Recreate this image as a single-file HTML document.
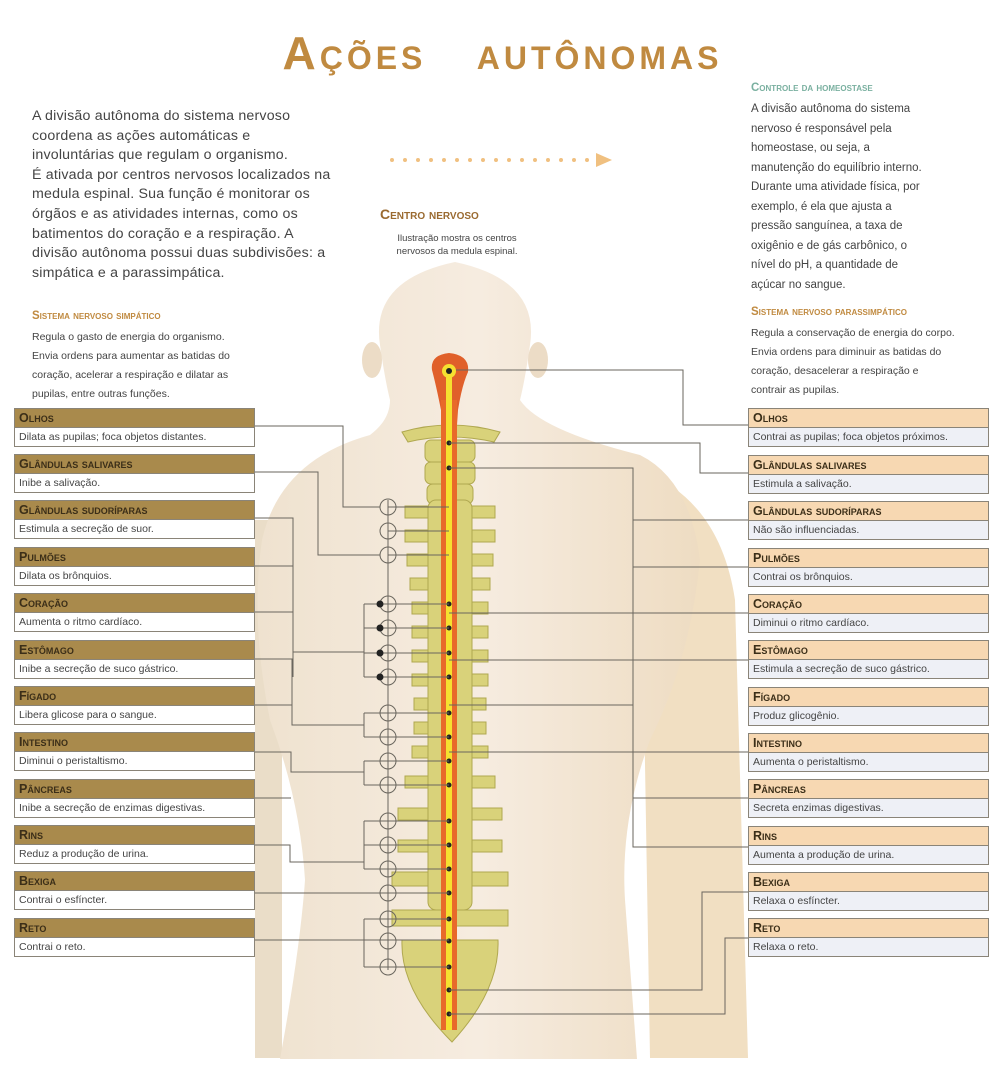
<!DOCTYPE html>
<html><head><meta charset="utf-8"><style>
body{margin:0;width:1005px;height:1086px;background:#fff;position:relative;overflow:hidden;font-family:"Liberation Sans",sans-serif;color:#444}
.a{position:absolute}
h1{position:absolute;left:0;width:1005px;top:26px;margin:0;text-align:center;font:bold 46px "Liberation Sans",sans-serif;color:#c08a40;letter-spacing:4px;font-variant:small-caps}
.lt{left:32px;top:107px;font-size:14.2px;line-height:19.6px;color:#444;letter-spacing:.2px}
.rt{left:751px;top:100px;font-size:11.5px;line-height:19.5px;color:#444}
.st{font-weight:bold;font-variant:small-caps;font-size:11.5px;color:#c08a40}
.box{position:absolute;width:239px;border:1px solid #8a8478;font-size:10.5px}
.box .h{height:18px;line-height:19px;padding-left:4px;font-weight:bold;font-variant:small-caps;font-size:12.5px;color:#3b2e18;border-bottom:1px solid #8a8478}
.box .b{height:18px;line-height:18px;padding-left:4px;color:#444}
.L .h{background:#a98a4c}.L .b{background:#fff}
.R .h{background:#f7d8b2}.R .b{background:#eef0f6}
</style></head><body>
<svg class="a" style="left:0;top:0" width="1005" height="1086">
<defs>
<linearGradient id="sk" x1="0" x2="1"><stop offset="0" stop-color="#efe2cf"/><stop offset=".5" stop-color="#f6ece0"/><stop offset="1" stop-color="#eedcc2"/></linearGradient>
</defs>
<path d="M255 520 L282 520 L282 1058 L255 1058Z" fill="#eaddc8"/>
<path d="M640 470 Q720 500 735 600 L748 1058 L650 1058 Z" fill="#f1dfc2"/>
<path d="M380 345 Q370 280 455 262 Q540 280 530 345 Q525 380 520 400 Q540 430 640 455 Q690 480 700 560 Q690 660 650 740 Q620 820 625 900 L637 1059 L280 1059 Q300 950 305 880 Q300 800 270 720 Q250 620 262 540 Q280 460 370 435 Q390 420 390 400 Q385 380 380 345Z" fill="url(#sk)"/>
<ellipse cx="372" cy="360" rx="10" ry="18" fill="#ecdcc6"/><ellipse cx="538" cy="360" rx="10" ry="18" fill="#ecdcc6"/>
<g fill="#f0c080"><circle cx="392" cy="160" r="2"/><circle cx="405" cy="160" r="2"/><circle cx="418" cy="160" r="2"/><circle cx="431" cy="160" r="2"/><circle cx="444" cy="160" r="2"/><circle cx="457" cy="160" r="2"/><circle cx="470" cy="160" r="2"/><circle cx="483" cy="160" r="2"/><circle cx="496" cy="160" r="2"/><circle cx="509" cy="160" r="2"/><circle cx="522" cy="160" r="2"/><circle cx="535" cy="160" r="2"/><circle cx="548" cy="160" r="2"/><circle cx="561" cy="160" r="2"/><circle cx="574" cy="160" r="2"/><circle cx="587" cy="160" r="2"/><path d="M596 153 L612 160 L596 167Z"/></g>
<g fill="#d9d27a" stroke="#b0a850" stroke-width="1">
<path d="M402 432 Q450 418 500 432 L494 442 Q450 432 408 442Z"/>
<rect x="425" y="440" width="50" height="22" rx="6"/><rect x="425" y="462" width="50" height="22" rx="6"/>
<rect x="427" y="484" width="46" height="20" rx="6"/>
<path d="M405 506 h90 v12 h-90z M405 530 h90 v12 h-90z M407 554 h86 v12 h-86z M410 578 h80 v12 h-80z M412 602 h76 v12 h-76z M412 626 h76 v12 h-76z M412 650 h76 v12 h-76z M412 674 h76 v12 h-76z M414 698 h72 v12 h-72z M414 722 h72 v12 h-72z M412 746 h76 v12 h-76z M405 776 h90 v12 h-90z M398 808 h104 v12 h-104z M398 840 h104 v12 h-104z M392 872 h116 v14 h-116z M392 910 h116 v16 h-116z"/>
<rect x="428" y="500" width="44" height="410" rx="8"/>
<path d="M402 940 L498 940 Q500 990 452 1042 Q400 990 402 940Z"/>
</g>
<path d="M432 370 Q430 355 449 353 Q470 355 468 372 Q462 385 458 410 L456 440 L443 440 L441 410 Q436 385 432 370Z" fill="#e0602a"/>
<rect x="441" y="400" width="16" height="630" fill="#e86a2a"/>
<rect x="446" y="370" width="6" height="660" fill="#f5e030"/>
<circle cx="449" cy="371" r="7" fill="#f5e030"/><circle cx="449" cy="371" r="3" fill="#222"/>
<g fill="#222"><circle cx="449" cy="443" r="2.5"/><circle cx="449" cy="468" r="2.5"/><circle cx="449" cy="604" r="2.5"/><circle cx="449" cy="628" r="2.5"/><circle cx="449" cy="653" r="2.5"/><circle cx="449" cy="677" r="2.5"/><circle cx="449" cy="713" r="2.5"/><circle cx="449" cy="737" r="2.5"/><circle cx="449" cy="761" r="2.5"/><circle cx="449" cy="785" r="2.5"/><circle cx="449" cy="821" r="2.5"/><circle cx="449" cy="845" r="2.5"/><circle cx="449" cy="869" r="2.5"/><circle cx="449" cy="893" r="2.5"/><circle cx="449" cy="919" r="2.5"/><circle cx="449" cy="941" r="2.5"/><circle cx="449" cy="967" r="2.5"/><circle cx="449" cy="990" r="2.5"/><circle cx="449" cy="1014" r="2.5"/></g>
<g fill="none" stroke="#6a665e" stroke-width="1">
<path d="M388 500 V970"/>
<path d="M253 426 H343 V507 H380"/>
<path d="M253 472 H318 V555 H380"/>
<path d="M253 518 H293 V677"/>
<path d="M253 566 H293"/>
<path d="M293 652 H364"/>
<path d="M253 612 H293 M253 659 H292 V725 H364"/><path d="M364 604 V677 M364 604 H449 M364 628 H449 M364 653 H449 M364 677 H449"/>
<path d="M253 705 H292"/><path d="M364 713 V737 M364 713 H449 M364 737 H449"/>
<path d="M253 752 H291 V772 H364 V761 M364 761 H449 M364 785 H449 M364 761 V785"/>
<path d="M253 798 H291 M253 845 H290 V862 H364 M364 821 V869 M364 821 H449 M364 845 H449 M364 869 H449"/>
<path d="M253 893 H449"/>
<path d="M253 940 H449 M364 919 V967 M364 919 H449 M364 967 H449"/>
<path d="M388 507 H449 M388 531 H449 M388 555 H449"/>
</g>
<g fill="none" stroke="#6a665e" stroke-width="1">
<circle cx="388" cy="507" r="8"/><circle cx="388" cy="531" r="8"/><circle cx="388" cy="555" r="8"/>
<circle cx="388" cy="604" r="8"/><circle cx="388" cy="628" r="8"/><circle cx="388" cy="653" r="8"/><circle cx="388" cy="677" r="8"/>
<circle cx="388" cy="713" r="8"/><circle cx="388" cy="737" r="8"/><circle cx="388" cy="761" r="8"/><circle cx="388" cy="785" r="8"/>
<circle cx="388" cy="821" r="8"/><circle cx="388" cy="845" r="8"/><circle cx="388" cy="869" r="8"/><circle cx="388" cy="893" r="8"/>
<circle cx="388" cy="919" r="8"/><circle cx="388" cy="941" r="8"/><circle cx="388" cy="967" r="8"/>
</g>
<g fill="#222"><circle cx="380" cy="604" r="3.5"/><circle cx="380" cy="628" r="3.5"/><circle cx="380" cy="653" r="3.5"/><circle cx="380" cy="677" r="3.5"/></g>
<g fill="none" stroke="#6a665e" stroke-width="1">
<path d="M456 370 H683 V425 H748"/>
<path d="M449 443 H700 V473 H748"/>
<path d="M449 468 H633 V520 H748"/>
<path d="M633 567 H748 M633 520 V800"/>
<path d="M449 613 H748 M449 660 H748 M449 705 H633 M449 752 H748 M633 798 H748"/>
<path d="M633 800 V847 H748"/>
<path d="M449 990 H702 V892 H748"/>
<path d="M449 1014 H725 V938 H748"/>
</g>
</svg>
<h1>Ações &nbsp;&nbsp;autônomas</h1>
<div class="a lt">A divisão autônoma do sistema nervoso<br>coordena as ações automáticas e<br>involuntárias que regulam o organismo.<br>É ativada por centros nervosos localizados na<br>medula espinal. Sua função é monitorar os<br>órgãos e as atividades internas, como os<br>batimentos do coração e a respiração. A<br>divisão autônoma possui duas subdivisões: a<br>simpática e a parassimpática.</div>
<div class="a st" style="left:32px;top:310px">Sistema nervoso simpático</div>
<div class="a" style="left:32px;top:328px;font-size:10.5px;line-height:19px">Regula o gasto de energia do organismo.<br>Envia ordens para aumentar as batidas do<br>coração, acelerar a respiração e dilatar as<br>pupilas, entre outras funções.</div>
<div class="a st" style="left:380px;top:206px;font-size:14px;color:#9a6a30">Centro nervoso</div>
<div class="a" style="left:372px;top:232px;width:170px;text-align:center;font-size:9.5px;line-height:13px">Ilustração mostra os centros<br>nervosos da medula espinal.</div>
<div class="a st" style="left:751px;top:82px;color:#7ab0a0">Controle da homeostase</div>
<div class="a rt">A divisão autônoma do sistema<br>nervoso é responsável pela<br>homeostase, ou seja, a<br>manutenção do equilíbrio interno.<br>Durante uma atividade física, por<br>exemplo, é ela que ajusta a<br>pressão sanguínea, a taxa de<br>oxigênio e de gás carbônico, o<br>nível do pH, a quantidade de<br>açúcar no sangue.</div>
<div class="a st" style="left:751px;top:306px">Sistema nervoso parassimpático</div>
<div class="a" style="left:751px;top:324px;font-size:10.5px;line-height:19px">Regula a conservação de energia do corpo.<br>Envia ordens para diminuir as batidas do<br>coração, desacelerar a respiração e<br>contrair as pupilas.</div>

<div class="box L" style="left:14px;top:408px"><div class="h">Olhos</div><div class="b">Dilata as pupilas; foca objetos distantes.</div></div>
<div class="box L" style="left:14px;top:454px"><div class="h">Glândulas salivares</div><div class="b">Inibe a salivação.</div></div>
<div class="box L" style="left:14px;top:500px"><div class="h">Glândulas sudoríparas</div><div class="b">Estimula a secreção de suor.</div></div>
<div class="box L" style="left:14px;top:547px"><div class="h">Pulmões</div><div class="b">Dilata os brônquios.</div></div>
<div class="box L" style="left:14px;top:593px"><div class="h">Coração</div><div class="b">Aumenta o ritmo cardíaco.</div></div>
<div class="box L" style="left:14px;top:640px"><div class="h">Estômago</div><div class="b">Inibe a secreção de suco gástrico.</div></div>
<div class="box L" style="left:14px;top:686px"><div class="h">Fígado</div><div class="b">Libera glicose para o sangue.</div></div>
<div class="box L" style="left:14px;top:732px"><div class="h">Intestino</div><div class="b">Diminui o peristaltismo.</div></div>
<div class="box L" style="left:14px;top:779px"><div class="h">Pâncreas</div><div class="b">Inibe a secreção de enzimas digestivas.</div></div>
<div class="box L" style="left:14px;top:825px"><div class="h">Rins</div><div class="b">Reduz a produção de urina.</div></div>
<div class="box L" style="left:14px;top:871px"><div class="h">Bexiga</div><div class="b">Contrai o esfíncter.</div></div>
<div class="box L" style="left:14px;top:918px"><div class="h">Reto</div><div class="b">Contrai o reto.</div></div>

<div class="box R" style="left:748px;top:408px"><div class="h">Olhos</div><div class="b">Contrai as pupilas; foca objetos próximos.</div></div>
<div class="box R" style="left:748px;top:455px"><div class="h">Glândulas salivares</div><div class="b">Estimula a salivação.</div></div>
<div class="box R" style="left:748px;top:501px"><div class="h">Glândulas sudoríparas</div><div class="b">Não são influenciadas.</div></div>
<div class="box R" style="left:748px;top:548px"><div class="h">Pulmões</div><div class="b">Contrai os brônquios.</div></div>
<div class="box R" style="left:748px;top:594px"><div class="h">Coração</div><div class="b">Diminui o ritmo cardíaco.</div></div>
<div class="box R" style="left:748px;top:640px"><div class="h">Estômago</div><div class="b">Estimula a secreção de suco gástrico.</div></div>
<div class="box R" style="left:748px;top:687px"><div class="h">Fígado</div><div class="b">Produz glicogênio.</div></div>
<div class="box R" style="left:748px;top:733px"><div class="h">Intestino</div><div class="b">Aumenta o peristaltismo.</div></div>
<div class="box R" style="left:748px;top:779px"><div class="h">Pâncreas</div><div class="b">Secreta enzimas digestivas.</div></div>
<div class="box R" style="left:748px;top:826px"><div class="h">Rins</div><div class="b">Aumenta a produção de urina.</div></div>
<div class="box R" style="left:748px;top:872px"><div class="h">Bexiga</div><div class="b">Relaxa o esfíncter.</div></div>
<div class="box R" style="left:748px;top:918px"><div class="h">Reto</div><div class="b">Relaxa o reto.</div></div>
</body></html>
